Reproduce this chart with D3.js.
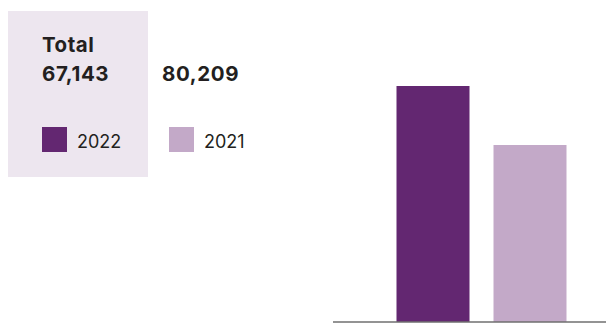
<!DOCTYPE html>
<html>
<head>
<meta charset="utf-8">
<script src="https://cdn.jsdelivr.net/npm/d3@7/dist/d3.min.js"></script>
<style>
  html, body { margin: 0; padding: 0; background: #ffffff; }
  svg { display: block; }
</style>
</head>
<body>
<svg id="chart" width="606" height="323"></svg>
<script>
// Years shown, their totals, and the relative bar heights
const years = ["2022", "2021"];
const totals = [67143, 80209];
const barValues = [40, 30];
const colors = ["#632771", "#c3a9c8"];

const svg = d3.select("#chart");
const fmt = d3.format(",");
const ink = "#231f20";

// Summary panel
svg.append("rect")
  .attr("x", 8).attr("y", 11)
  .attr("width", 140).attr("height", 166)
  .attr("fill", "#ede6ef");

svg.append("text")
  .attr("x", 42).attr("y", 52)
  .attr("font-family", "Inter, sans-serif")
  .attr("font-weight", 700)
  .attr("font-size", 20.5)
  .attr("letter-spacing", 0.5)
  .attr("fill", ink)
  .text("Total");

// Totals per year
const totalX = d3.scaleOrdinal().domain(years).range([42, 162]);
const legendX = d3.scaleOrdinal().domain(years).range([42, 169]);
const rows = years.map((y, i) => ({ year: y, total: totals[i], color: colors[i] }));

svg.append("g").selectAll("text")
  .data(rows)
  .join("text")
  .attr("x", d => totalX(d.year)).attr("y", 81)
  .attr("font-family", "Inter, sans-serif")
  .attr("font-weight", 700)
  .attr("font-size", 20.5)
  .attr("letter-spacing", 0.6)
  .attr("fill", ink)
  .text(d => fmt(d.total));

// Legend
const entry = svg.append("g").selectAll("g")
  .data(rows)
  .join("g")
  .attr("transform", d => `translate(${legendX(d.year)},0)`);

entry.append("rect")
  .attr("x", 0).attr("y", 127)
  .attr("width", 25).attr("height", 25)
  .attr("fill", d => d.color);

entry.append("text")
  .attr("x", 35).attr("y", 147.5)
  .attr("font-family", "Inter, sans-serif")
  .attr("font-weight", 400)
  .attr("font-size", 18)
  .attr("fill", ink)
  .text(d => d.year);

// Bars
const x = d3.scaleBand()
  .domain(years)
  .range([384.5, 578.5])
  .paddingInner(0.2474)
  .paddingOuter(0.1237);

const y = d3.scaleLinear()
  .domain([0, 40])
  .range([322, 86]);

svg.append("g").selectAll("rect")
  .data(rows.map((d, i) => ({ ...d, value: barValues[i] })))
  .join("rect")
  .attr("x", d => x(d.year))
  .attr("y", d => y(d.value))
  .attr("width", x.bandwidth())
  .attr("height", d => y(0) - y(d.value))
  .attr("fill", d => d.color);

// Baseline
svg.append("line")
  .attr("x1", 333).attr("x2", 606)
  .attr("y1", y(0)).attr("y2", y(0))
  .attr("stroke", "#6f6f6f")
  .attr("stroke-width", 1.5);
</script>
</body>
</html>
